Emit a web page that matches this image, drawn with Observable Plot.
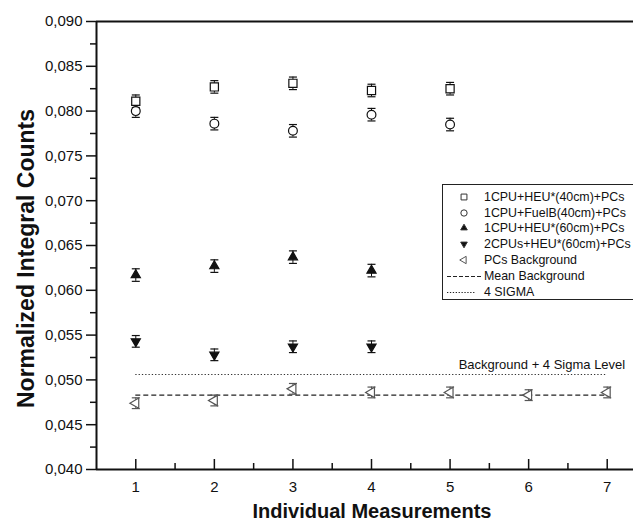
<!DOCTYPE html>
<html><head><meta charset="utf-8">
<script src="https://cdn.jsdelivr.net/npm/d3@7"></script>
<script src="https://cdn.jsdelivr.net/npm/@observablehq/plot@0.6"></script>
<style>
body{margin:0;background:#fff;overflow:hidden}
#wrap{position:relative;width:633px;height:526px;overflow:hidden;font-family:"Liberation Sans",Arial,sans-serif}
#legend{position:absolute;left:442px;top:184px;width:220px;height:116px;border:1.5px solid #222;background:#fff;box-sizing:border-box;font-family:"Liberation Sans",Arial,sans-serif;font-size:12.4px;color:#111;padding-top:4px}
.row{height:15.8px;display:flex;align-items:center;white-space:nowrap}
.row svg{flex:none}
</style></head><body><div id="wrap"><div id="legend"></div></div>
<script>
// ---- data ----
const measurements = [1, 2, 3, 4, 5, 6, 7];
const xMinorTicks = [1.5, 2.5, 3.5, 4.5, 5.5, 6.5];
const yTicks = [0.040, 0.045, 0.050, 0.055, 0.060, 0.065, 0.070, 0.075, 0.080, 0.085, 0.090];
const yMinorTicks = [0.0425, 0.0475, 0.0525, 0.0575, 0.0625, 0.0675, 0.0725, 0.0775, 0.0825, 0.0875];

const seriesNames = ["1CPU+HEU*(40cm)+PCs", "1CPU+FuelB(40cm)+PCs", "1CPU+HEU*(60cm)+PCs", "2CPUs+HEU*(60cm)+PCs", "PCs Background"];

const heu40X = [1, 2, 3, 4, 5];
const heu40Y = [0.0811, 0.0827, 0.0831, 0.0823, 0.0825];
const heu40Err = [0.0007, 0.0007, 0.0007, 0.0007, 0.0007];

const fuelBX = [1, 2, 3, 4, 5];
const fuelBY = [0.0800, 0.0786, 0.0778, 0.0796, 0.0785];
const fuelBErr = [0.0007, 0.0007, 0.0007, 0.0007, 0.0007];

const heu60X = [1, 2, 3, 4];
const heu60Y = [0.0617, 0.0627, 0.0637, 0.0622];
const heu60Err = [0.0007, 0.0007, 0.0007, 0.0007];

const cpu2X = [1, 2, 3, 4];
const cpu2Y = [0.0543, 0.0528, 0.0537, 0.0537];
const cpu2Err = [0.00065, 0.00065, 0.00065, 0.00065];

const bgX = [1, 2, 3, 4, 5, 6, 7];
const bgY = [0.0474, 0.0477, 0.0490, 0.0486, 0.0486, 0.0483, 0.0486];
const bgErr = [0.0006, 0.0006, 0.0006, 0.0006, 0.0006, 0.0006, 0.0006];

const meanBackground = 0.0483;
const fourSigmaLevel = 0.0506;
const annotation = "Background + 4 Sigma Level";

// ---- symbols ----
const sqrt3 = Math.sqrt(3);
const triDown = {draw(c, size) { const y = -Math.sqrt(size / (sqrt3 * 3)); c.moveTo(0, -2 * y); c.lineTo(-sqrt3 * y, y); c.lineTo(sqrt3 * y, y); c.closePath(); }};
const triLeft = {draw(c, size) { const y = -Math.sqrt(size / (sqrt3 * 3)); c.moveTo(2 * y, 0); c.lineTo(-y, sqrt3 * y); c.lineTo(-y, -sqrt3 * y); c.closePath(); }};
const cap = {draw(c, size) { const r = Math.sqrt(size / Math.PI); c.moveTo(-r, 0); c.lineTo(r, 0); }};

const mk = (X, Y, E) => X.map((x, i) => ({x, y: Y[i], lo: Y[i] - E[i], hi: Y[i] + E[i]}));
const series = [
  {data: mk(heu40X, heu40Y, heu40Err), symbol: "square", r: 4.6, fill: "white", stroke: "#111", color: "#111"},
  {data: mk(fuelBX, fuelBY, fuelBErr), symbol: "circle", r: 4.4, fill: "white", stroke: "#111", color: "#111"},
  {data: mk(heu60X, heu60Y, heu60Err), symbol: "triangle", r: 3.4, fill: "#111", stroke: "#111", color: "#111"},
  {data: mk(cpu2X, cpu2Y, cpu2Err), symbol: triDown, r: 3.4, fill: "#111", stroke: "#111", color: "#111"},
  {data: mk(bgX, bgY, bgErr), symbol: triLeft, r: 3.8, fill: "white", stroke: "#555", color: "#555"}
];

const fmt = d => d3.format(".3f")(d).replace(".", ",");

const marks = [];
for (const s of series) {
  marks.push(Plot.ruleX(s.data, {x: "x", y1: "lo", y2: "hi", stroke: s.color, strokeWidth: 1}));
  marks.push(Plot.dot(s.data, {x: "x", y: "lo", symbol: cap, r: 4, stroke: s.color, strokeWidth: 1.2}));
  marks.push(Plot.dot(s.data, {x: "x", y: "hi", symbol: cap, r: 4, stroke: s.color, strokeWidth: 1.2}));
}
const lineMarks = [
  Plot.ruleY([meanBackground], {x1: d3.min(measurements), x2: d3.max(measurements), stroke: "#222", strokeWidth: 1.2, strokeDasharray: "5,3"}),
  Plot.ruleY([fourSigmaLevel], {x1: d3.min(measurements), x2: d3.max(measurements), stroke: "#333", strokeWidth: 1.2, strokeDasharray: "1.3,2"}),
  Plot.text([fourSigmaLevel], {x: d3.max(measurements), y: d => d, text: () => annotation, textAnchor: "end", dx: 18, dy: -10, fontSize: 13, fill: "#111"})
];
const dotMarks = series.map(s => Plot.dot(s.data, {x: "x", y: "y", symbol: s.symbol, r: s.r, fill: s.fill, stroke: s.stroke, strokeWidth: 1.2}));

const plot = Plot.plot({
  width: 633, height: 526,
  marginTop: 21, marginBottom: 57, marginLeft: 96, marginRight: 0,
  style: {fontFamily: "'Liberation Sans', Arial, sans-serif", fontSize: "15px", color: "#111", background: "#fff", overflow: "hidden"},
  x: {domain: [0.5, 7.5], range: [96, 646]},
  y: {domain: [0.040, 0.090]},
  marks: [
    ...lineMarks,
    ...marks,
    ...dotMarks,
    Plot.ruleX([0.5], {stroke: "#111", strokeWidth: 2}),
    Plot.ruleY([d3.min(yTicks), d3.max(yTicks)], {stroke: "#111", strokeWidth: 2}),
    Plot.axisY(yTicks, {tickFormat: fmt, tickSize: 10, tickPadding: 4, strokeWidth: 1.5, fontSize: 15, label: null}),
    Plot.axisY(yMinorTicks, {tickSize: 6, text: null, strokeWidth: 1.5, label: null}),
    Plot.axisX(measurements, {tickSize: 0, tickPadding: 12, fontSize: 15, label: null}),
    Plot.axisX(measurements, {tickSize: -10, text: null, strokeWidth: 1.5, label: null}),
    Plot.axisX(xMinorTicks, {tickSize: -6, text: null, strokeWidth: 1.5, label: null}),
    Plot.text(["Individual Measurements"], {frameAnchor: "bottom", dx: 7, dy: 48, fontSize: 20, fontWeight: "bold", fill: "#111"}),
    Plot.text(["Normalized Integral Counts"], {frameAnchor: "left", textAnchor: "middle", rotate: -90, dx: -70, dy: 13, fontSize: 23, fontWeight: "bold", fill: "#111"})
  ]
});
const wrap = document.getElementById("wrap");
wrap.insertBefore(plot, wrap.firstChild);

// ---- legend ----
const legend = d3.select("#legend");
const legendItems = [
  ...series.map((s, i) => ({type: "dot", s, label: seriesNames[i]})),
  {type: "line", dash: "4,2", label: "Mean Background", w: 34},
  {type: "line", dash: "1.3,1.6", label: "4 SIGMA", w: 29}
];
for (const it of legendItems) {
  const row = legend.append("div").attr("class", "row");
  const svg = row.append("svg").attr("width", 39).attr("height", 14);
  if (it.type === "dot") {
    const sym = typeof it.s.symbol === "string" ? {square: d3.symbolSquare, circle: d3.symbolCircle, triangle: d3.symbolTriangle}[it.s.symbol] : it.s.symbol;
    const r = it.s.r * 0.72;
    svg.append("path").attr("transform", "translate(21,7)").attr("d", d3.symbol(sym, r * r * Math.PI)())
      .attr("fill", it.s.fill).attr("stroke", it.s.stroke === "#111" ? "#333" : it.s.stroke).attr("stroke-width", 1);
  } else {
    svg.append("line").attr("x1", 4).attr("x2", 4 + it.w).attr("y1", 7.5).attr("y2", 7.5)
      .attr("stroke", "#222").attr("stroke-width", 1).attr("stroke-dasharray", it.dash);
  }
  row.append("span").style("margin-left", "2px").text(it.label);
}
</script>
</body></html>
